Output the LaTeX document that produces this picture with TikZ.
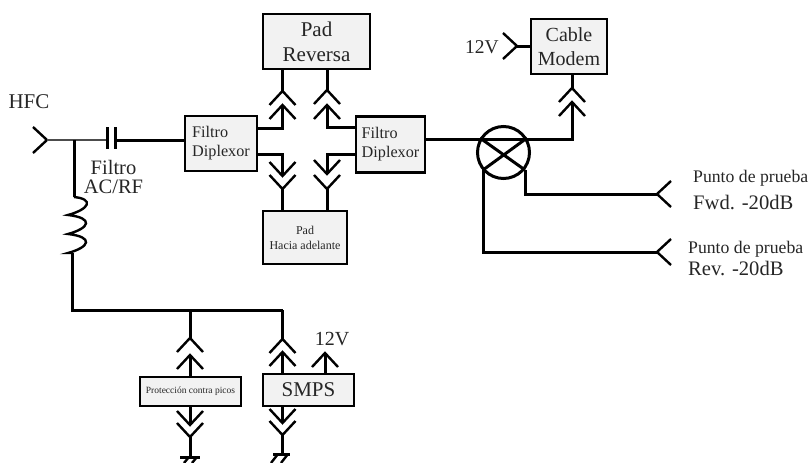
\documentclass[tikz,border=0pt]{standalone}
\usepackage{fontspec}
\setmainfont{Liberation Serif}
\usetikzlibrary{positioning,calc}

\begin{document}
\begin{tikzpicture}[x=1pt,y=-1pt]

	\tikzset{line/.style={draw,line width=3pt,line join=miter}}
	\tikzset{thinline/.style={draw,line width=2.4pt}}
	\tikzset{block/.style={draw,line width=2.4pt,fill=black!5,inner sep=0pt,align=center,text=black!85}}
	\tikzset{plug/.pic={\path[thinline,line join=miter] (-13,14) -- (0,0) -- (13,14);}}
	\tikzset{txt/.style={inner sep=0pt,align=center,text=black!85}}

	\useasboundingbox (0,0) rectangle (809,463);


	% Boxes.
	\node[block,minimum width=107,minimum height=55,font=\fontsize{21}{25}\selectfont] (padrev) at (316.5,41.5) {Pad\\Reversa};
	\node[block,minimum width=72,minimum height=55,align=left,font=\fontsize{16.2}{19}\selectfont] (filtl) at (221,143.5) {Filtro\\Diplexor};
	\node[block,minimum width=69,minimum height=56,align=left,font=\fontsize{16.2}{19}\selectfont] (filtr) at (390.5,144.5) {Filtro\\Diplexor};
	\node[block,minimum width=84,minimum height=53,font=\fontsize{12}{15}\selectfont] (padfwd) at (305,237.5) {Pad\\Hacia adelante};
	\node[block,minimum width=76,minimum height=55,font=\fontsize{20}{24}\selectfont] (modem) at (569,46.5) {Cable\\Modem};
	\node[block,minimum width=101,minimum height=29,font=\fontsize{9.5}{11}\selectfont] (prot) at (190.5,391.5) {Protección contra picos};
	\node[block,minimum width=91,minimum height=32,font=\fontsize{21}{25}\selectfont] (smps) at (308.5,390) {SMPS};
	\node[draw,circle,line width=3pt,minimum size=52,inner sep=0pt] (coupler) at (503.5,152.5) {};


	% Labels.
	\node[txt,font=\fontsize{21}{25}\selectfont] (hfclabel) at (29,102) {HFC};
	\node[txt,font=\fontsize{20.5}{19}\selectfont] (caplabel) at (113.5,177) {Filtro\\AC/RF};
	\node[txt,font=\fontsize{19.5}{23}\selectfont] (vmodem) at (482,47) {12V};
	\node[txt,font=\fontsize{20}{24}\selectfont] (vsmps) at (332,339) {12V};
	\node[txt,font=\fontsize{17.7}{19}\selectfont,anchor=west] (fwdtop) at (693,178) {Punto de prueba};
	\node[txt,font=\fontsize{20.6}{24}\selectfont,anchor=west] (fwdbot) at (693,202) {Fwd. -20dB};
	\node[txt,font=\fontsize{17.7}{19}\selectfont,anchor=west] (revtop) at (688,249) {Punto de prueba};
	\node[txt,font=\fontsize{20.6}{24}\selectfont,anchor=west] (revbot) at (688,268) {Rev. -20dB};


	% Input side.
	\coordinate (hfc) at (47,140);
	\coordinate (cap1) at (107,140);
	\coordinate (cap2) at (115,140);
	\coordinate (tee) at (74,140);
	\coordinate (coilt) at (74,197);
	\coordinate (coilb) at (72,253);
	\coordinate (busl) at (72,310);
	\coordinate (busr) at (283,310);

	\pic[rotate=-90] at (hfc) {plug};
	\path[draw,line width=1.6pt,black!70] (hfc) to (cap1);
	\path[line] (cap1 |- 0,127) to (cap1 |- 0,149);
	\path[line] (cap2 |- 0,127) to (cap2 |- 0,149);
	\path[line] (cap2) to (cap2 -| filtl.west);
	\path[line] (tee) to (coilt);
	\draw[line width=2.4pt] (coilt) .. controls (94,199) and (90,209) .. (68,215) .. controls (94,218) and (90,228) .. (68,234) .. controls (94,237) and (90,247) .. (68,253) -- (coilb);
	\path[line] (coilb) to (busl) -- (busr);


	% Pads.
	\coordinate (a1) at (282.5,91);
	\coordinate (a2) at (282.5,105);
	\coordinate (b1) at (327,90);
	\coordinate (b2) at (327,105);
	\coordinate (c1) at (282.5,176);
	\coordinate (c2) at (282.5,189);
	\coordinate (d1) at (327,174);
	\coordinate (d2) at (327,189);

	\pic at (a1) {plug};
	\pic at (a2) {plug};
	\pic at (b1) {plug};
	\pic at (b2) {plug};
	\pic[rotate=180] at (c1) {plug};
	\pic[rotate=180] at (c2) {plug};
	\pic[rotate=180] at (d1) {plug};
	\pic[rotate=180] at (d2) {plug};

	\path[line] (a1 |- padrev.south) to (a1);
	\path[line] (b1 |- padrev.south) to (b1);
	\path[line] (a2) -- (282.5,128) -- (filtl.east |- 0,128);
	\path[line] (b2) -- (327,127) -- (filtr.west |- 0,127);
	\path[line] (filtl.east |- 0,154) -- (282.5,154) -- (c1);
	\path[line] (filtr.west |- 0,154) -- (327,154) -- (d1);
	\path[line] (c2) to (c2 |- padfwd.north);
	\path[line] (d2) to (d2 |- padfwd.north);


	% Output side.
	\coordinate (m1) at (572,88);
	\coordinate (m2) at (572,102);
	\coordinate (v1) at (517,46);
	\coordinate (tpf) at (657,194);
	\coordinate (tpr) at (657,252);
	\coordinate (cnw) at (480,138);
	\coordinate (cne) at (527,138);
	\coordinate (csw) at (483,170);
	\coordinate (cse) at (525,170);

	\pic at (m1) {plug};
	\pic at (m2) {plug};
	\pic[rotate=-90] at (v1) {plug};
	\pic[rotate=90] at (tpf) {plug};
	\pic[rotate=90] at (tpr) {plug};

	\path[line] (m1 |- modem.south) to (m1);
	\path[line] (v1) to (v1 -| modem.west);
	\path[line] (filtr.east |- 0,139) -- (572,139) -- (m2);
	\path[line] (cnw) to (cse);
	\path[line] (cne) to (csw);
	\path[line] (cse) |- (tpf);
	\path[line] (csw) |- (tpr);


	% Power side.
	\coordinate (p1) at (190,338);
	\coordinate (p2) at (190,355);
	\coordinate (p3) at (190,425);
	\coordinate (p4) at (190,437);
	\coordinate (s1) at (282.5,339);
	\coordinate (s2) at (282.5,352);
	\coordinate (s3) at (282.5,423);
	\coordinate (s4) at (282.5,435);
	\coordinate (s5) at (325,353);
	\coordinate (gp) at (190,457);
	\coordinate (gs) at (282.5,454);

	\pic at (p1) {plug};
	\pic at (p2) {plug};
	\pic[rotate=180] at (p3) {plug};
	\pic[rotate=180] at (p4) {plug};
	\pic at (s1) {plug};
	\pic at (s2) {plug};
	\pic[rotate=180] at (s3) {plug};
	\pic[rotate=180] at (s4) {plug};
	\pic at (s5) {plug};

	\path[line] (p1 |- busl) to (p1);
	\path[line] (p2) to (p2 |- prot.north);
	\path[line] (p3 |- prot.south) to (p3);
	\path[line] (p4) to (gp);
	\path[line] (s1 |- busl) to (s1);
	\path[line] (s2) to (s2 |- smps.north);
	\path[line] (s3 |- smps.south) to (s3);
	\path[line] (s4) to (gs);
	\path[line] (s5) to (s5 |- smps.north);

	\path[line] (180,457) -- (200,457);
	\path[line] (273,454) -- (290,454);
	\path[thinline] (189,457) -- (184,463);
	\path[thinline] (197,457) -- (192,463);
	\path[thinline] (278,454) -- (271,463);
	\path[thinline] (288,454) -- (281,463);

\end{tikzpicture}
\end{document}
